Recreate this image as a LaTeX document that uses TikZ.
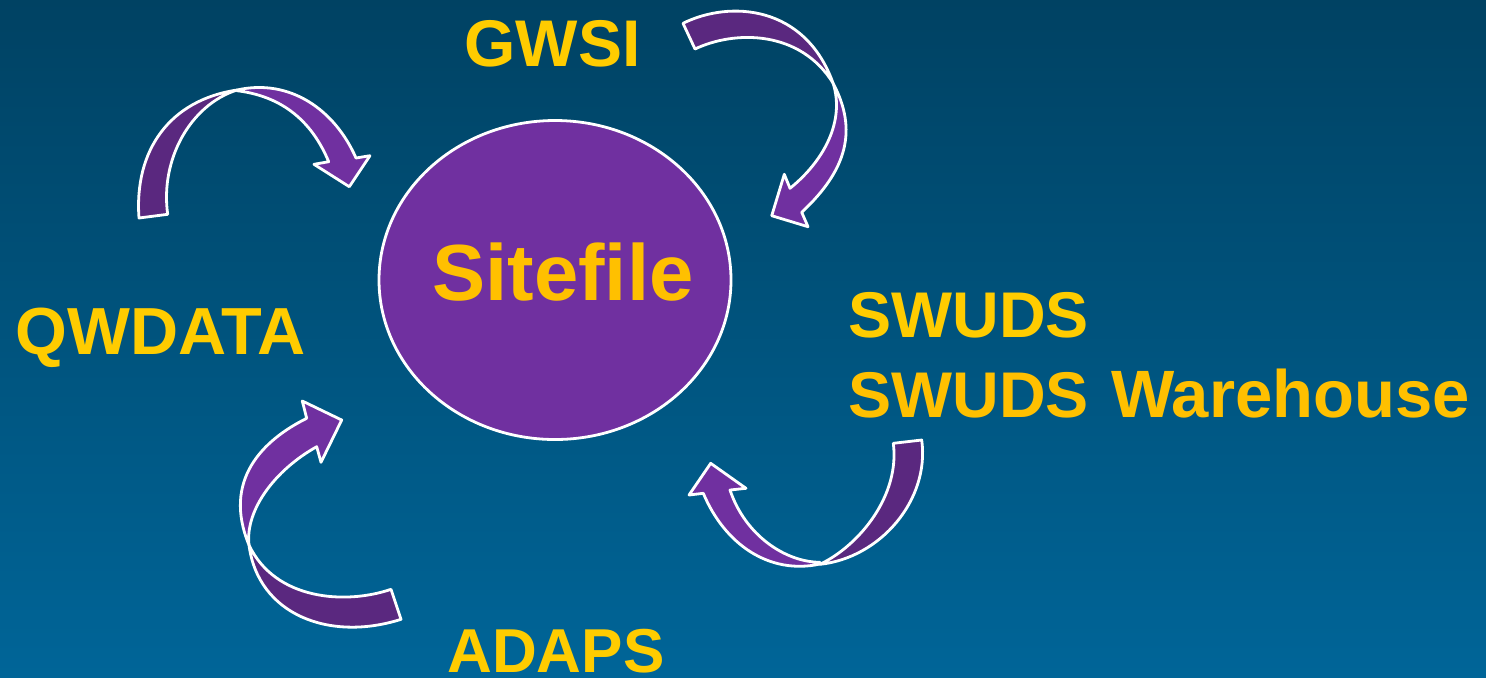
\documentclass[tikz,border=0pt]{standalone}
\usepackage{fontspec}
\usetikzlibrary{shapes.geometric}
\setmainfont{Liberation Sans}
\definecolor{bgtop}{RGB}{0,66,99}
\definecolor{bgbot}{RGB}{0,101,152}
\definecolor{purl}{RGB}{112,48,160}
\definecolor{purd}{RGB}{90,40,127}
\definecolor{gold}{RGB}{255,192,0}
\definecolor{goldb}{RGB}{255,204,0}
\tikzset{
  lab/.style={anchor=base west,inner sep=0pt,text=goldb,font=\fontsize{33}{33}\selectfont\bfseries},
  arrowdark/.style={draw=white,fill=purd,line width=1.4pt,line join=round},
  arrowlight/.style={draw=white,fill=purl,line width=1.4pt,line join=round}
}
\begin{document}
\begin{tikzpicture}[x=0.5pt,y=-0.5pt]
\useasboundingbox (0,0) rectangle (1486,677);
\shade[top color=bgtop,bottom color=bgbot] (0,0) rectangle (1486,677);
\node[draw=white,fill=purl,line width=1.4pt,ellipse,minimum width=176pt,minimum height=159.5pt,inner sep=0pt] (hub) at (555,280) {};
\node[lab,text=gold,font=\fontsize{39.8}{40}\selectfont\bfseries] (site) at (432,300) {Sitefile};
\node[lab] (gwsi) at (464,66) {GWSI};
\node[lab,font=\fontsize{33.3}{33}\selectfont\bfseries] (qw) at (15,354) {QWDATA};
\node[lab,font=\fontsize{32.3}{33}\selectfont\bfseries] (sw1) at (848,337) {SWUDS};
\node[lab,text=gold,font=\fontsize{32.3}{33}\selectfont\bfseries] (sw2) at (848,417) {SWUDS\hspace{2.2pt} {\fontsize{33.5}{33}\selectfont Warehouse}};
\node[lab,font=\fontsize{31}{33}\selectfont\bfseries] (adaps) at (447,672) {ADAPS};
% top-left
\draw[arrowdark] (139,218) .. controls (134,150) and (170,100) .. (237,90)
  .. controls (190,105) and (160,160) .. (167.7,214.3) -- cycle;
\draw[arrowlight] (237,90) .. controls (290,78) and (335,110) .. (356,158)
  -- (370,155.7) -- (349.3,186.7) -- (314,164.3) -- (328.7,161.7)
  .. controls (308,112) and (272,95) .. (237,90.7) -- cycle;
% top-right
\draw[arrowdark] (683,23.3) .. controls (730,0) and (805,5) .. (833,83)
  .. controls (800,30) and (735,30) .. (695,49) -- cycle;
\draw[arrowlight] (833,83) .. controls (858,130) and (847,170) .. (801.7,212.3)
  -- (808,226.7) -- (771.7,215.7) -- (784.3,174.3) -- (790,188.3)
  .. controls (825,160) and (845,120) .. (833,83) -- cycle;
% bottom-right
\draw[arrowdark] (921.7,440) .. controls (930,500) and (880,558) .. (820,564.3)
  .. controls (860,545) and (900,495) .. (893.3,443.3) -- cycle;
\draw[arrowlight] (820,564) .. controls (770,575) and (725,545) .. (703.3,493.3)
  -- (689,495) -- (710.7,463.3) -- (746,488.3) -- (730,490)
  .. controls (745,535) and (785,562) .. (820,562.3) -- cycle;
% bottom-left
\draw[arrowdark] (249,545) .. controls (275,600) and (345,605) .. (391,589.3)
  -- (401,619.3) .. controls (330,642) and (258,615) .. (249,545) -- cycle;
\draw[arrowlight] (249,545) .. controls (222,480) and (263,440) .. (306.7,418.3)
  -- (302.3,401) -- (341.7,420) -- (321,462.3) -- (316.7,446.7)
  .. controls (275,470) and (245,510) .. (249,545) -- cycle;
\end{tikzpicture}
\end{document}
